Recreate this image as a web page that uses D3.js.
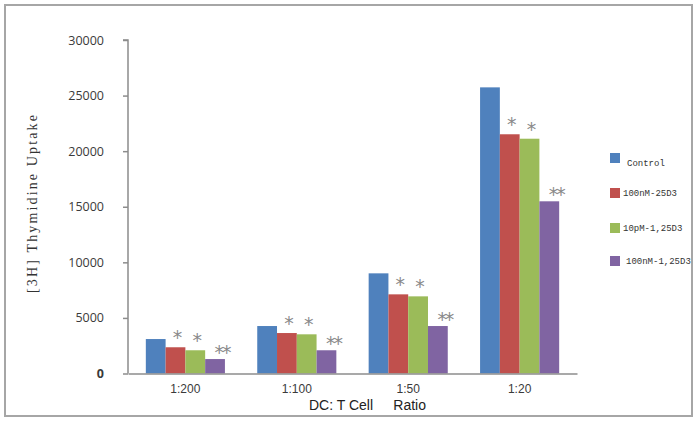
<!DOCTYPE html>
<html>
<head>
<meta charset="utf-8">
<script src="https://cdn.jsdelivr.net/npm/d3@7"></script>
<style>
  html, body { margin: 0; padding: 0; background: #fff; }
  svg { display: block; }
</style>
</head>
<body>
<svg id="chart" width="698" height="422"></svg>
<script>
// ---- Data ----
const categories = ["1:200", "1:100", "1:50", "1:20"];
const seriesNames = ["Control", "100nM-25D3", "10pM-1,25D3", "100nM-1,25D3"];
const control     = [3100, 4270, 9010, 25740];
const nM25D3      = [2360, 3640, 7120, 21520];
const pM125D3     = [2090, 3525, 6940, 21120];
const nM125D3     = [1300, 2090, 4270, 15490];
const significance = ["", "*", "*", "**"];
const yTicks = [0, 5000, 10000, 15000, 20000, 25000, 30000];
const colors = ["#4F81BD", "#C0504D", "#9BBB59", "#8064A2"];

const seriesValues = [control, nM25D3, pM125D3, nM125D3];

const svg = d3.select("#chart");

// Outer border
svg.append("rect")
  .attr("x", 5).attr("y", 5).attr("width", 687).attr("height", 411)
  .attr("fill", "none").attr("stroke", "#a6a6a6").attr("stroke-width", 2);

const plot = { left: 128, right: 577, top: 40, bottom: 373.5 };

const x0 = d3.scaleBand().domain(categories)
  .range([plot.left, plot.right]).paddingInner(0.29).paddingOuter(0.16);
const x1 = d3.scaleBand().domain(d3.range(seriesNames.length))
  .range([0, x0.bandwidth()]).padding(0);
const y = d3.scaleLinear().domain([0, 30000]).range([plot.bottom, plot.top]);

// Bars
const groups = svg.append("g").selectAll("g")
  .data(categories).join("g")
  .attr("transform", d => `translate(${x0(d)},0)`);

groups.selectAll("rect")
  .data((c, ci) => seriesValues.map((vals, si) => ({ si, v: vals[ci] })))
  .join("rect")
  .attr("x", d => x1(d.si))
  .attr("width", x1.bandwidth())
  .attr("y", d => y(d.v))
  .attr("height", d => y(0) - y(d.v))
  .attr("fill", d => colors[d.si]);

// Significance markers
groups.selectAll("text.sig")
  .data((c, ci) => seriesValues.map((vals, si) => ({ si, v: vals[ci] })).filter(d => significance[d.si]))
  .join("text")
  .attr("class", "sig")
  .attr("x", d => x1(d.si) + x1.bandwidth() / 2 + (significance[d.si].length > 1 ? 6 : 2))
  .attr("y", d => y(d.v) - (significance[d.si].length > 1 ? 0 : 3))
  .attr("text-anchor", "middle")
  .attr("font-family", "'DejaVu Sans Mono', monospace")
  .attr("font-size", 19)
  .attr("fill", "#8a8a8a")
  .attr("letter-spacing", d => significance[d.si].length > 1 ? -4 : 0)
  .text(d => significance[d.si]);

// Y axis
const yAxis = d3.axisLeft(y).tickValues(yTicks).tickSize(5).tickPadding(19)
  .tickFormat(d3.format("d"));
const yg = svg.append("g").attr("transform", `translate(${plot.left},0)`).call(yAxis);
yg.select(".domain").attr("stroke", "#8c8c8c").attr("stroke-width", 1.5)
  .attr("d", `M-5,${plot.top}H0V${plot.bottom}`);
yg.selectAll(".tick line").attr("stroke", "#8c8c8c").attr("stroke-width", 1.5);
yg.selectAll(".tick text")
  .attr("font-family", "'Open Sans', 'Liberation Sans', sans-serif")
  .attr("font-size", 12.5).attr("fill", "#3a3a3a")
  .attr("font-weight", d => d === 0 ? "bold" : "normal");

// X axis
const xAxis = d3.axisBottom(x0).tickSize(0).tickPadding(11);
const xg = svg.append("g").attr("transform", `translate(0,${plot.bottom})`).call(xAxis);
xg.select(".domain").attr("stroke", "#8c8c8c").attr("stroke-width", 1.5);
xg.selectAll(".tick text")
  .attr("font-family", "'Liberation Sans', sans-serif")
  .attr("font-size", 12).attr("fill", "#3a3a3a");

// X axis title (two parts, as in the reference)
svg.append("text")
  .attr("x", 309).attr("y", 410)
  .attr("font-family", "'Liberation Sans', sans-serif")
  .attr("font-size", 14).attr("fill", "#222")
  .text("DC: T Cell");
svg.append("text")
  .attr("x", 426).attr("y", 410)
  .attr("text-anchor", "end")
  .attr("font-family", "'Liberation Sans', sans-serif")
  .attr("font-size", 14).attr("fill", "#222")
  .text("Ratio");

// Y axis title
svg.append("text")
  .attr("transform", "translate(37,204) rotate(-90)")
  .attr("text-anchor", "middle")
  .attr("font-family", "'Liberation Serif', serif")
  .attr("font-size", 14).attr("fill", "#333")
  .attr("textLength", 178).attr("lengthAdjust", "spacing")
  .text("[3H] Thymidine Uptake");

// Legend
const legendY = [158, 193, 228, 261];
const legend = svg.append("g").selectAll("g")
  .data(seriesNames).join("g")
  .attr("transform", (d, i) => `translate(610,${legendY[i]})`);
legend.append("rect")
  .attr("x", 0).attr("y", -5).attr("width", 10).attr("height", 10)
  .attr("fill", (d, i) => colors[i]);
legend.append("text")
  .attr("x", (d, i) => i === 0 ? 17 : (i === 3 ? 16 : 13))
  .attr("y", (d, i) => i === 0 ? 8 : 3)
  .attr("font-family", "'Liberation Mono', monospace")
  .attr("font-size", 9).attr("fill", "#333")
  .text(d => d);
</script>
</body>
</html>
